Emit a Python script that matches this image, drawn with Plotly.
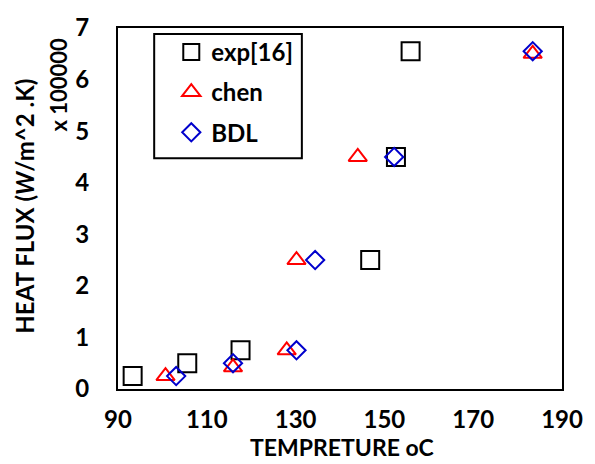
import plotly.graph_objects as go

# Measured heat flux (x 100000 W/m^2.K) against wall temperature (oC)
exp_temp = [93.3, 105.6, 117.6, 146.8, 152.6, 155.9]
exp_flux = [0.25, 0.5, 0.75, 2.5, 4.5, 6.55]

chen_temp = [100.7, 115.9, 128.0, 130.2, 144.0, 183.4]
chen_flux = [0.25, 0.42, 0.75, 2.5, 4.5, 6.5]

bdl_temp = [103.1, 115.9, 130.2, 134.4, 152.2, 183.4]
bdl_flux = [0.25, 0.5, 0.75, 2.5, 4.5, 6.55]

x_ticks = [90, 110, 130, 150, 170, 190]
y_ticks = [0, 1, 2, 3, 4, 5, 6, 7]

FONT = "Lato"
BOLD = dict(family=FONT, color="black", weight="bold")

fig = go.Figure()
fig.add_trace(go.Scatter(
    x=exp_temp, y=exp_flux, mode="markers", name="exp[16]", legendgroup="a",
    marker=dict(symbol="square-open", size=18, color="black", line=dict(width=2, color="black")),
))
fig.add_trace(go.Scatter(
    x=chen_temp, y=chen_flux, mode="markers", name="chen", legendgroup="b",
    marker=dict(symbol="triangle-up-open", size=16, color="#ff0000", line=dict(width=2, color="#ff0000")),
))
fig.add_trace(go.Scatter(
    x=bdl_temp, y=bdl_flux, mode="markers", name="BDL", legendgroup="c",
    marker=dict(symbol="diamond-open", size=14, color="#0000cc", line=dict(width=2, color="#0000cc")),
))

axis_common = dict(
    showgrid=False, zeroline=False, showline=True, linecolor="black", linewidth=2,
    mirror=True, ticks="",
)

fig.update_layout(
    width=595, height=464,
    margin=dict(l=118, r=23, t=23, b=75),
    paper_bgcolor="white", plot_bgcolor="white",
    font=dict(family=FONT, color="black"),
    xaxis=dict(range=[90, 190], tickvals=x_ticks, ticklabelstandoff=8,
               tickfont=dict(size=24, **BOLD), **axis_common),
    yaxis=dict(range=[0, 7], tickvals=y_ticks, ticklabelstandoff=22,
               tickfont=dict(size=24, **BOLD), **axis_common),
    showlegend=True,
    legend=dict(
        x=0.12, y=0.995, xanchor="left", yanchor="top",
        bgcolor="rgba(0,0,0,0)", borderwidth=0,
        font=dict(size=24, **BOLD),
        traceorder="grouped", tracegroupgap=6,
    ),
    shapes=[dict(
        type="rect", xref="paper", yref="paper",
        x0=(155 - 118) / 454, x1=(306 - 118) / 454,
        y0=(389 - 155) / 366, y1=(389 - 29) / 366,
        line=dict(color="black", width=2), fillcolor="rgba(0,0,0,0)",
    )],
    annotations=[
        dict(text="TEMPRETURE oC", xref="paper", yref="paper", x=0.505, y=(389 - 464) / 366,
             xanchor="center", yanchor="bottom", showarrow=False,
             font=dict(size=23, **BOLD)),
        dict(text="HEAT FLUX (<i>W</i>/m^2 .K)", xref="paper", yref="paper",
             x=(22 - 118) / 454, y=(389 - 204) / 366, textangle=-90,
             xanchor="center", yanchor="middle", showarrow=False,
             font=dict(size=24, **BOLD)),
        dict(text="x 100000", xref="paper", yref="paper",
             x=(57 - 118) / 454, y=(389 - 80) / 366, textangle=-90,
             xanchor="center", yanchor="middle", showarrow=False,
             font=dict(size=22, **BOLD)),
    ],
)

fig.write_html("out.html")
